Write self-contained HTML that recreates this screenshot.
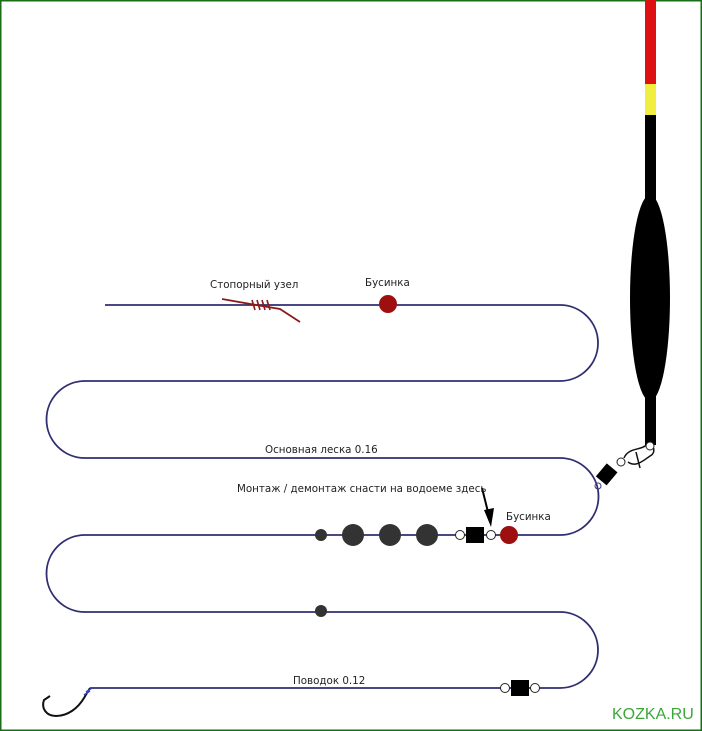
<!DOCTYPE html>
<html><head><meta charset="utf-8"><style>
html,body{margin:0;padding:0;background:#fff}
svg{display:block}
text{font-family:"DejaVu Sans","Liberation Sans",sans-serif;font-size:10.3px;fill:#222}
</style></head><body>
<svg width="702" height="731" viewBox="0 0 702 731">
<rect x="0.75" y="0.75" width="700.5" height="729.5" fill="#fff" stroke="#1a6e1a" stroke-width="1.5"/>
<!-- float -->
<rect x="645" y="0" width="11" height="84" fill="#dd1111"/>
<rect x="645" y="84" width="11" height="31" fill="#f2ee40"/>
<rect x="645" y="115" width="11" height="330" fill="#000"/>
<ellipse cx="650" cy="298" rx="20" ry="103" fill="#000"/>
<!-- main line -->
<path d="M105 305 H560 A38 38 0 0 1 560 381 H85 A38.5 38.5 0 0 0 85 458 H560 A38.5 38.5 0 0 1 560 535 H85 A38.5 38.5 0 0 0 85 612 H560 A38 38 0 0 1 560 688 H90" fill="none" stroke="#2e2e70" stroke-width="1.8"/>
<!-- stop knot -->
<path d="M222 299 L262 306 L280 309 L300 322" fill="none" stroke="#8b1a1a" stroke-width="1.8"/>
<path d="M252 300 l3 10 M257 300 l3 10 M262 300 l3 10 M267 300 l3 10" stroke="#8b1a1a" stroke-width="1.6"/>
<circle cx="388" cy="304" r="9" fill="#9e0f0f"/>
<!-- beads row -->
<circle cx="321" cy="535" r="6" fill="#333"/>
<circle cx="353" cy="535" r="11" fill="#333"/>
<circle cx="390" cy="535" r="11" fill="#333"/>
<circle cx="427" cy="535" r="11" fill="#333"/>
<circle cx="460" cy="535" r="4.5" fill="#fff" stroke="#222"/>
<rect x="466" y="527" width="18" height="16" fill="#000"/>
<circle cx="491" cy="535" r="4.5" fill="#fff" stroke="#222"/>
<circle cx="509" cy="535" r="9" fill="#9e0f0f"/>
<!-- arrow -->
<path d="M482 488 L490 520" stroke="#000" stroke-width="2"/>
<path d="M484 510 L491 527 L494 508 Z" fill="#000"/>
<circle cx="321" cy="611" r="6" fill="#333"/>
<!-- bottom swivel -->
<circle cx="505" cy="688" r="4.5" fill="#fff" stroke="#222"/>
<rect x="511" y="680" width="18" height="16" fill="#000"/>
<circle cx="535" cy="688" r="4.5" fill="#fff" stroke="#222"/>
<!-- hook -->
<path d="M90 688 L84 698 C78 708 68 716 56 716 C46 716 41 708 44 700 L50 696" fill="none" stroke="#111" stroke-width="2"/>
<path d="M86 692 l6 -4 M84 695 l6 -4" stroke="#3344cc" stroke-width="1.6"/>
<!-- snap swivel near float -->
<rect x="600" y="466" width="14" height="17" fill="#000" transform="rotate(40 607 474)"/>
<circle cx="598" cy="486" r="3" fill="none" stroke="#3a3a7a"/>
<circle cx="621" cy="462" r="4" fill="#fff" stroke="#222"/>
<path d="M624 458 C628 448 640 450 645 446 C652 440 658 452 650 456 C644 460 636 468 628 462 M636 452 L640 468" fill="none" stroke="#111" stroke-width="1.5"/>
<circle cx="650" cy="446" r="4" fill="#fff" stroke="#222"/>
<!-- labels -->
<text x="210" y="288">Стопорный узел</text>
<text x="365" y="286">Бусинка</text>
<text x="265" y="453">Основная леска 0.16</text>
<text x="237" y="492">Монтаж / демонтаж снасти на водоеме здесь</text>
<text x="506" y="520">Бусинка</text>
<text x="293" y="684">Поводок 0.12</text>
<text x="612" y="719" style="font-family:'Liberation Sans',sans-serif;font-size:16px;fill:#3aa63a">KOZKA.RU</text>
</svg>
</body></html>
